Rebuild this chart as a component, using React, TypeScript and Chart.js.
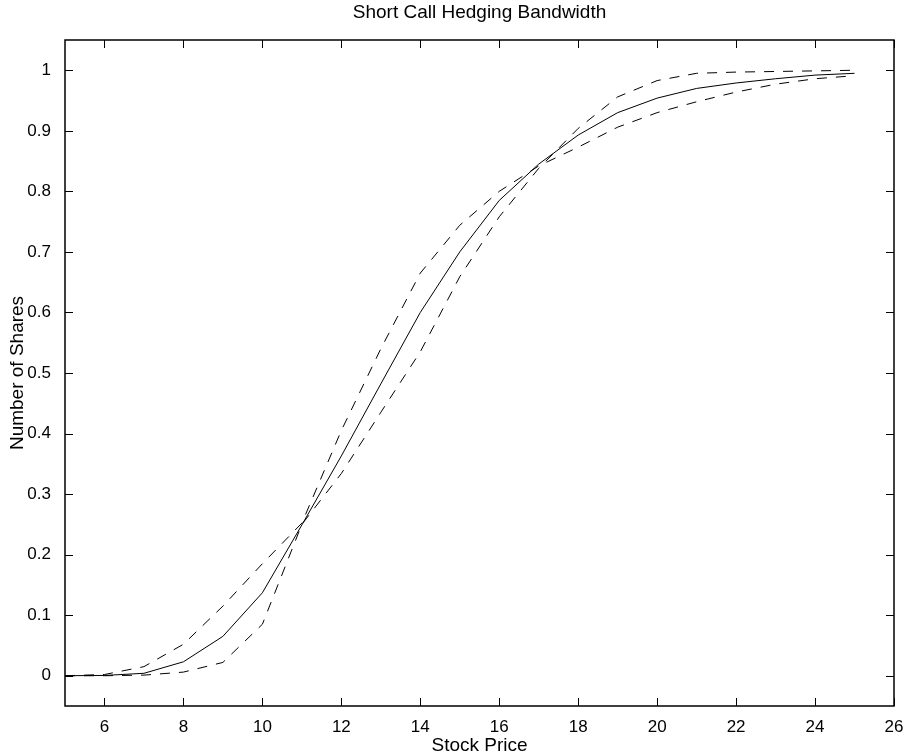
import React, { useEffect, useRef } from "react";
import { Chart, registerables } from "chart.js";

Chart.register(...registerables);

// ---- data ----
const STOCK_PRICE = [5, 6, 7, 8, 9, 10, 11, 12, 13, 14, 15, 16, 17, 18, 19, 20, 21, 22, 23, 24, 25];
const HEDGE_SHARES = [0, 0.0005, 0.004, 0.023, 0.065, 0.137, 0.249, 0.363, 0.482, 0.6, 0.7, 0.785, 0.845, 0.893, 0.93, 0.954, 0.97, 0.979, 0.986, 0.992, 0.995];
const BAND_A = [0, 0.002, 0.015, 0.052, 0.115, 0.185, 0.252, 0.405, 0.54, 0.665, 0.744, 0.8, 0.842, 0.873, 0.906, 0.93, 0.948, 0.964, 0.977, 0.986, 0.991];
const BAND_B = [0, 0, 0.001, 0.006, 0.022, 0.085, 0.25, 0.334, 0.435, 0.535, 0.659, 0.758, 0.838, 0.904, 0.956, 0.983, 0.995, 0.997, 0.998, 0.999, 1.0];

const X_TICKS = [6, 8, 10, 12, 14, 16, 18, 20, 22, 24, 26];
const Y_TICKS = [0, 0.1, 0.2, 0.3, 0.4, 0.5, 0.6, 0.7, 0.8, 0.9, 1];
const X_MIN = 5;
const X_MAX = 26;
const Y_MIN = -0.05;
const Y_MAX = 1.05;

const TITLE = "Short Call Hedging Bandwidth";
const X_LABEL = "Stock Price";
const Y_LABEL = "Number of Shares";

const FONT = "'Liberation Sans', Arial, Helvetica, sans-serif";
const W = 906;
const H = 754;

const toPoints = (ys: number[]) => STOCK_PRICE.map((x, i) => ({ x, y: ys[i] }));

const framePlugin = {
  id: "matlabFrame",
  afterDraw(chart: any) {
    const { ctx, chartArea } = chart;
    const { left, right, top, bottom } = chartArea;
    const xs = chart.scales.x;
    const ys = chart.scales.y;
    ctx.save();
    ctx.strokeStyle = "#000";
    ctx.lineWidth = 1;
    const tl = 8;
    ctx.beginPath();
    X_TICKS.forEach((v) => {
      const px = Math.round(xs.getPixelForValue(v)) + 0.5;
      ctx.moveTo(px, bottom);
      ctx.lineTo(px, bottom - tl);
      ctx.moveTo(px, top);
      ctx.lineTo(px, top + tl);
    });
    Y_TICKS.forEach((v) => {
      const py = Math.round(ys.getPixelForValue(v)) + 0.5;
      ctx.moveTo(left, py);
      ctx.lineTo(left + tl, py);
      ctx.moveTo(right, py);
      ctx.lineTo(right - tl, py);
    });
    ctx.stroke();
    ctx.lineWidth = 1.5;
    ctx.strokeRect(left, top, right - left, bottom - top);
    ctx.fillStyle = "#000";
    ctx.font = `19px ${FONT}`;
    ctx.textAlign = "center";
    ctx.textBaseline = "middle";
    const cx = (left + right) / 2;
    ctx.fillText(TITLE, cx, 13);
    ctx.fillText(X_LABEL, cx, 746);
    ctx.translate(18, (top + bottom) / 2);
    ctx.rotate(-Math.PI / 2);
    ctx.fillText(Y_LABEL, 0, 0);
    ctx.restore();
  },
};

export default function App() {
  const ref = useRef<HTMLCanvasElement | null>(null);

  useEffect(() => {
    document.body.style.margin = "0";
    const canvas = ref.current;
    if (!canvas) return;
    const chart = new Chart(canvas, {
      type: "line",
      data: {
        datasets: [
          {
            label: "Hedge",
            data: toPoints(HEDGE_SHARES),
            borderColor: "#000",
            borderWidth: 1,
            pointRadius: 0,
            tension: 0,
            fill: false,
          },
          {
            label: "Band A",
            data: toPoints(BAND_A),
            borderColor: "#000",
            borderWidth: 1,
            borderDash: [10, 9],
            pointRadius: 0,
            tension: 0,
            fill: false,
          },
          {
            label: "Band B",
            data: toPoints(BAND_B),
            borderColor: "#000",
            borderWidth: 1,
            borderDash: [10, 9],
            pointRadius: 0,
            tension: 0,
            fill: false,
          },
        ],
      },
      options: {
        responsive: false,
        animation: false,
        devicePixelRatio: 1,
        layout: { padding: { left: 0, right: W - 894, top: 40, bottom: 0 } },
        plugins: {
          legend: { display: false },
          title: { display: false },
          tooltip: { enabled: false },
        },
        scales: {
          x: {
            type: "linear",
            min: X_MIN,
            max: X_MAX,
            grid: { display: false },
            border: { display: false },
            afterBuildTicks: (scale: any) => {
              scale.ticks = X_TICKS.map((value) => ({ value }));
            },
            afterFit: (scale: any) => {
              scale.height = H - 706;
              scale.paddingLeft = 0;
              scale.paddingRight = 0;
            },
            ticks: {
              color: "#000",
              padding: 3,
              autoSkip: false,
              maxRotation: 0,
              font: { family: FONT, size: 17 },
              callback: (v: any) => String(v),
            },
          },
          y: {
            type: "linear",
            min: Y_MIN,
            max: Y_MAX,
            grid: { display: false },
            border: { display: false },
            afterBuildTicks: (scale: any) => {
              scale.ticks = Y_TICKS.map((value) => ({ value }));
            },
            afterFit: (scale: any) => {
              scale.width = 65;
              scale.paddingTop = 0;
              scale.paddingBottom = 0;
            },
            ticks: {
              color: "#000",
              padding: 6,
              autoSkip: false,
              font: { family: FONT, size: 17 },
              callback: (v: any) => String(Math.round(Number(v) * 10) / 10),
            },
          },
        },
      },
      plugins: [framePlugin],
    } as any);
    return () => chart.destroy();
  }, []);

  return (
    <div style={{ position: "fixed", left: 0, top: 0, width: W, height: H, background: "#fff", overflow: "hidden" }}>
      <canvas ref={ref} width={W} height={H} />
    </div>
  );
}
